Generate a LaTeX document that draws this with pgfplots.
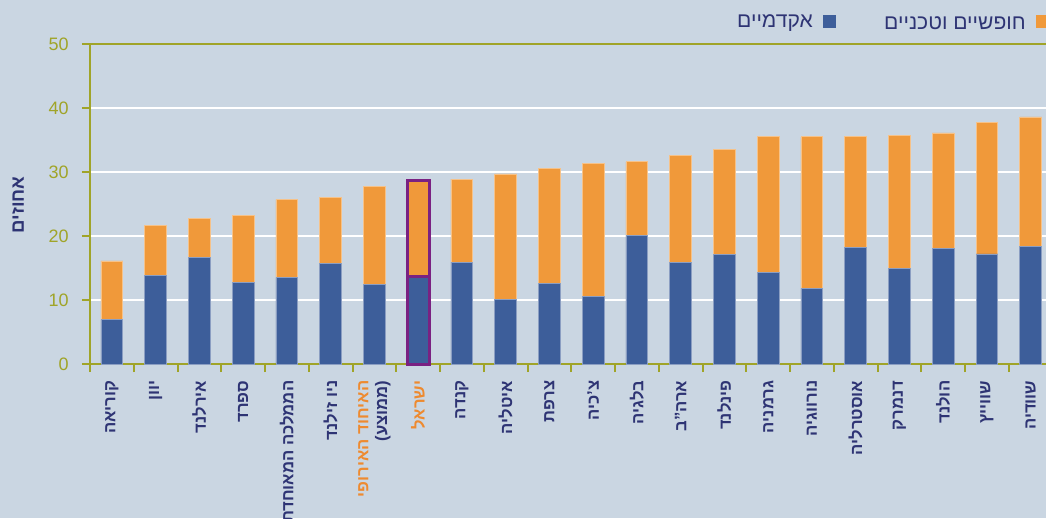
\documentclass[border=0pt]{standalone}
\usepackage{fontspec}
\setmainfont[Script=Hebrew]{Liberation Sans}
\usepackage{pgfplots}
\pgfplotsset{compat=1.18}
\TeXXeTstate=1
\definecolor{bgc}{HTML}{CAD6E2}
\definecolor{olv}{HTML}{A0A428}
\definecolor{acad}{HTML}{3D5E9A}
\definecolor{voc}{HTML}{F0993A}
\definecolor{navy}{HTML}{2E3474}
\definecolor{hl}{HTML}{7A2182}
\definecolor{lbl}{HTML}{EE8A2F}

\begin{document}
\begin{tikzpicture}[x=1pt,y=1pt]
  \fill[bgc] (-67.5,-115.5) rectangle (717,273);
  \begin{axis}[
    at={(0,0)}, anchor=south west,
    scale only axis, width=717pt, height=240pt,
    xmin=-0.5, xmax=21.35, ymin=0, ymax=50,
    ybar stacked, bar width=0.5,
    axis lines=left,
    axis line style={-, draw=olv, line width=1.5pt},
    ytick={0,10,...,50},
    ymajorgrids,
    major grid style={draw=white, line width=1.3pt},
    tick align=outside,
    major tick length=6pt,
    tick style={draw=olv, line width=1.5pt},
    /pgf/number format/assume math mode=true,
    yticklabel style={font=\fontsize{13.5}{16}\selectfont, color=olv, xshift=-6.5pt},
    xtick={-0.5,0.5,...,20.5},
    xticklabel style={xshift=16.41pt, yshift=-3pt, rotate=90, anchor=east, align=right,
      font=\bfseries\fontsize{12.5}{14}\selectfont, color=navy},
    xticklabels={
      {\beginR קוריאה\endR},{\beginR יוון\endR},{\beginR אירלנד\endR},{\beginR ספרד\endR},
      {\beginR הממלכה המאוחדת\endR},{\beginR ניו זילנד\endR},
      {\color{lbl}\beginR האיחוד האירופי\endR\\\beginR (ממוצע)\endR},{\color{lbl}\beginR ישראל\endR},
      {\beginR קנדה\endR},{\beginR איטליה\endR},{\beginR צרפת\endR},{\beginR צ'כיה\endR},
      {\beginR בלגיה\endR},{\beginR ארה"ב\endR},{\beginR פינלנד\endR},{\beginR גרמניה\endR},
      {\beginR נורווגיה\endR},{\beginR אוסטרליה\endR},{\beginR דנמרק\endR},
      {\beginR הולנד\endR},{\beginR שווייץ\endR},{\beginR שוודיה\endR}},
    clip=false,
  ]
    % academic
    \addplot[fill=acad, draw=acad!60!white, line width=0.6pt] coordinates {
      (0,6.9) (1,13.85) (2,16.6) (3,12.7) (4,13.5) (5,15.7) (6,12.45) (7,13.6)
      (8,15.9) (9,10.05) (10,12.55) (11,10.6) (12,20.05) (13,15.8) (14,17.1)
      (15,14.3) (16,11.8) (17,18.2) (18,14.9) (19,18.0) (20,17.2) (21,18.4)};
    % vocational / technical
    \addplot[fill=voc, draw=voc!60!white, line width=0.6pt] coordinates {
      (0,9.2) (1,7.75) (2,6.2) (3,10.5) (4,12.2) (5,10.3) (6,15.35) (7,15.15)
      (8,13.0) (9,19.65) (10,17.95) (11,20.75) (12,11.55) (13,16.85) (14,16.4)
      (15,21.2) (16,23.7) (17,17.4) (18,20.8) (19,18.1) (20,20.5) (21,20.2)};
    \coordinate (isA) at (axis cs:6.75,0);
    \coordinate (isB) at (axis cs:7.25,28.75);
    \coordinate (isM) at (axis cs:6.75,13.6);
    \coordinate (isN) at (axis cs:7.25,13.6);
    \coordinate (topL) at (axis cs:-0.5,50);
    \coordinate (topR) at (axis cs:21.35,50);
  \end{axis}
  % Israel highlight and top rule
  \draw[hl, line width=2.25pt] (isA) rectangle (isB);
  \draw[hl, line width=2.25pt] (isM) -- (isN);
  \draw[olv, line width=1.5pt] (topL) -- (topR);
  % legend
  \fill[voc] (709.5,252) rectangle (719.25,262);
  \node[anchor=east, inner sep=0pt, text=navy, font=\fontsize{15.8}{18}\selectfont] at (702,255.5) {\beginR חופשיים וטכניים\endR};
  \fill[acad] (549.75,252) rectangle (559.5,262);
  \node[anchor=east, inner sep=0pt, text=navy, font=\fontsize{15.8}{18}\selectfont] at (542.25,255.5) {\beginR אקדמיים\endR};
  % y label
  \node[rotate=90, text=navy, font=\bfseries\fontsize{14}{16}\selectfont] at (-54,119.25) {\beginR אחוזים\endR};
  \pgfresetboundingbox
  \useasboundingbox (-67.5,-115.5) rectangle (717,273);
\end{tikzpicture}
\end{document}
